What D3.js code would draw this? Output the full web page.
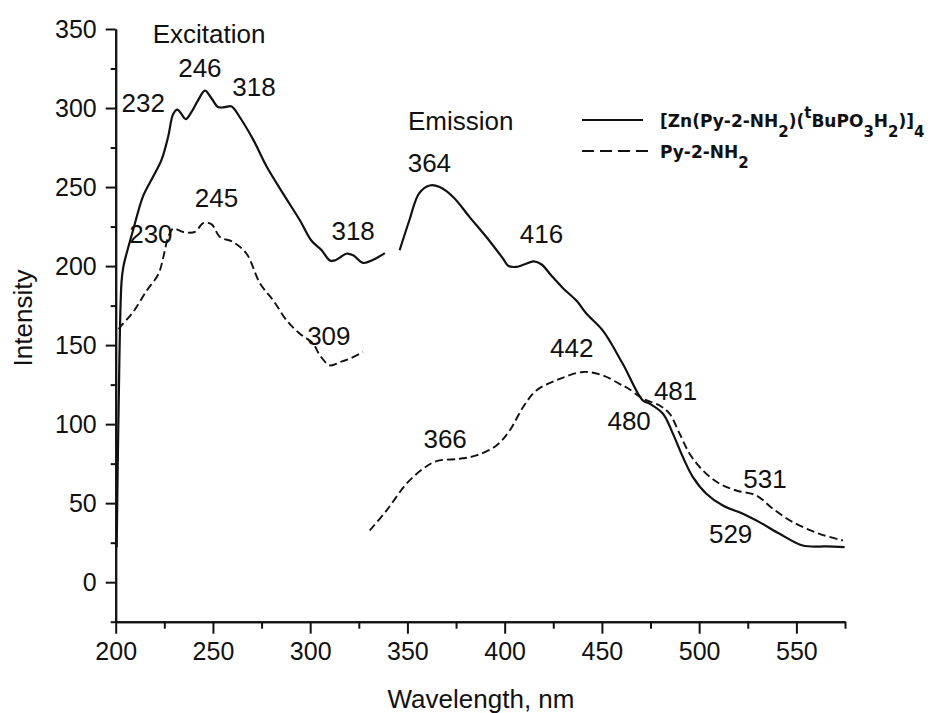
<!DOCTYPE html>
<html>
<head>
<meta charset="utf-8">
<script src="https://cdn.jsdelivr.net/npm/d3@7"></script>
<style>
    body { margin: 0; background: #fff; }
    svg text { font-family: "Liberation Sans", Arial, sans-serif; fill: #111; }
    .axis path, .axis line { stroke: #111; stroke-width: 2; }
    .curve { fill: none; stroke: #111; stroke-width: 2.2; stroke-linejoin: round; }
    .dashed { stroke-dasharray: 8, 4; stroke-width: 1.9; }
    .legend text { font-family: "DejaVu Sans", sans-serif; font-weight: bold; }
</style>
</head>
<body>
<div id="chart_div"></div>
<script>
// wavelength (nm), intensity
const zincExcitation = [
    [200.5, 22], [201.5, 110], [203, 190], [204, 200], [205.6, 208], [209, 223], [214, 244],
    [219, 256], [223.5, 267], [227, 282], [229.5, 296], [231.7, 299], [233.9, 296], [236, 293],
    [239, 297.5], [242.4, 305], [245.9, 311], [249.3, 306], [252.7, 300.6], [256.2, 300.6],
    [259.6, 301], [263.9, 294], [270.7, 280], [277.6, 263], [286, 246], [294.7, 229],
    [300.7, 216], [305.9, 210], [310.1, 203.6], [312.7, 203.6], [318.7, 207.8], [322.1, 206.8],
    [327.2, 202], [332.4, 204], [338.4, 208.2]
];
const zincEmission = [
    [346, 210], [351, 229], [356, 246], [361.5, 251], [366.6, 250], [373.5, 243.7], [382, 231],
    [390.6, 218.4], [399, 205], [402, 200], [406, 199.5], [410, 201], [415, 203], [419, 201],
    [424, 194], [430, 186], [437, 178], [442, 170], [450.6, 159], [460.8, 138], [471, 115],
    [474.5, 113], [481.4, 106.6], [486.5, 94], [491.7, 79], [496.8, 66.5], [503.7, 56],
    [512.2, 48.5], [522.5, 43.3], [531, 38], [541.4, 30.6], [553.3, 23.2], [565.4, 22.6],
    [574.8, 22.2]
];
const ligandExcitation = [
    [201.5, 160], [203, 162.5], [209, 171], [216, 184.6], [222, 195], [224.5, 205.7],
    [227, 218.4], [229.6, 223.7], [234.7, 221.6], [240.7, 221.6], [245, 227.2], [249.3, 226.4],
    [253.6, 218.4], [260.4, 215.2], [267.3, 207.8], [274.2, 189], [281, 178.3], [287.9, 165.6],
    [294.7, 157.2], [301.5, 151], [305, 143.5], [310.1, 137.2], [315.3, 139.2], [320.4, 141.4],
    [327.2, 145.6]
];
const ligandEmission = [
    [330.6, 32.7], [339.3, 45.4], [349.5, 62.3], [358.1, 71.8], [365, 76.6], [376.9, 78.1],
    [385.5, 80.2], [395.8, 86.5], [402.6, 96], [409.5, 110.8], [416.3, 121.3], [428.3, 128.6],
    [440.3, 133], [450.6, 130.8], [459, 125.5], [463, 123], [471.1, 116.1], [479.7, 111.8],
    [484.8, 106.6], [490, 93.9], [495.1, 81.3], [501.9, 70.7], [510.5, 62.3], [519.1, 58],
    [529.4, 54.9], [537.9, 46.5], [548.2, 38], [561.9, 30.6], [573.9, 26.4]
];

// annotations: wavelength, intensity (baseline), text
const peakLabels = [
    [248, 341, "Excitation"], [243.3, 319.4, "246"], [214.2, 297.3, "232"], [271.1, 307.4, "318"],
    [251.8, 237.2, "245"], [218.1, 214.4, "230"], [322.1, 216.3, "318"], [309.6, 149.8, "309"],
    [377.4, 285.9, "Emission"], [361.3, 259.5, "364"], [418.9, 214.4, "416"], [434.5, 142.2, "442"],
    [369.4, 84.6, "366"], [487.9, 115, "481"], [464, 96, "480"], [533.9, 59.3, "531"],
    [516.2, 24.5, "529"]
];

const xTicks = [200, 250, 300, 350, 400, 450, 500, 550];
const xMinorTicks = [225, 275, 325, 375, 425, 475, 525, 575];
const yTicks = [0, 50, 100, 150, 200, 250, 300, 350];
const yMinorTicks = [-25, 25, 75, 125, 175, 225, 275, 325];

// legend text pieces: text, 1 = subscript, -1 = superscript
const legendRows = [
    { dashed: false, parts: [["[Zn(Py-2-NH", 0], ["2", 1], [")(", 0], ["t", -1], ["BuPO", 0], ["3", 1], ["H", 0], ["2", 1], [")]", 0], ["4", 1]] },
    { dashed: true, parts: [["Py-2-NH", 0], ["2", 1]] }
];

class SpectraChart {
    constructor() {
        this.x = d3.scaleLinear().domain([200, 575]).range([115.7, 845]);
        this.y = d3.scaleLinear().domain([-25, 350]).range([621.7, 29]);
        this.svg = d3.select("#chart_div").append("svg")
            .attr("width", 935).attr("height", 713);
    }
    drawAxes() {
        let svg = this.svg;
        svg.append("g").attr("class", "axis")
            .attr("transform", "translate(0,621.7)")
            .call(d3.axisBottom(this.x).tickValues(xMinorTicks).tickSize(7).tickSizeOuter(0).tickFormat(""));
        svg.append("g").attr("class", "axis")
            .attr("transform", "translate(0,621.7)")
            .call(d3.axisBottom(this.x).tickValues(xTicks).tickSize(12).tickPadding(9).tickSizeOuter(0))
            .attr("font-size", 25).attr("font-family", null);
        svg.append("g").attr("class", "axis")
            .attr("transform", "translate(115.7,0)")
            .call(d3.axisLeft(this.y).tickValues(yMinorTicks).tickSize(5).tickSizeOuter(0).tickFormat(""));
        svg.append("g").attr("class", "axis")
            .attr("transform", "translate(115.7,0)")
            .call(d3.axisLeft(this.y).tickValues(yTicks).tickSize(10).tickPadding(9).tickSizeOuter(0))
            .attr("font-size", 25).attr("font-family", null);

        svg.append("text")
            .attr("x", 481).attr("y", 708)
            .attr("text-anchor", "middle").attr("font-size", 26)
            .text("Wavelength, nm");
        svg.append("text")
            .attr("transform", "translate(31.5,318) rotate(-90)")
            .attr("text-anchor", "middle").attr("font-size", 26)
            .text("Intensity");
    }
    drawCurves() {
        let line = d3.line()
            .x(d => this.x(d[0]))
            .y(d => this.y(d[1]))
            .curve(d3.curveCatmullRom);
        [zincExcitation, zincEmission].forEach(s => {
            this.svg.append("path").datum(s).attr("class", "curve").attr("d", line);
        });
        [ligandExcitation, ligandEmission].forEach(s => {
            this.svg.append("path").datum(s).attr("class", "curve dashed").attr("d", line);
        });
    }
    drawLabels() {
        this.svg.selectAll(".peak")
            .data(peakLabels)
            .enter()
            .append("text")
            .attr("class", "peak")
            .attr("x", d => this.x(d[0]))
            .attr("y", d => this.y(d[1]))
            .attr("text-anchor", "middle")
            .attr("font-size", 26)
            .text(d => d[2]);
    }
    drawLegend() {
        let legend = this.svg.append("g").attr("class", "legend");
        legendRows.forEach((row, i) => {
            let ly = 120 + i * 31;
            legend.append("line")
                .attr("x1", 582).attr("x2", row.dashed ? 650 : 643)
                .attr("y1", ly).attr("y2", ly)
                .attr("stroke", "#111").attr("stroke-width", 2)
                .attr("stroke-dasharray", row.dashed ? "12,6" : null);
            let text = legend.append("text")
                .attr("x", 660).attr("y", ly + 7)
                .attr("font-size", 17);
            let prev = 0;
            row.parts.forEach(p => {
                let off = p[1] > 0 ? 10 : (p[1] < 0 ? -9 : 0);
                text.append("tspan")
                    .attr("dy", off - prev)
                    .attr("font-size", p[1] ? 15 : 17)
                    .text(p[0]);
                prev = off;
            });
        });
    }
}

let chart = new SpectraChart();
chart.drawAxes();
chart.drawCurves();
chart.drawLabels();
chart.drawLegend();
</script>
</body>
</html>
